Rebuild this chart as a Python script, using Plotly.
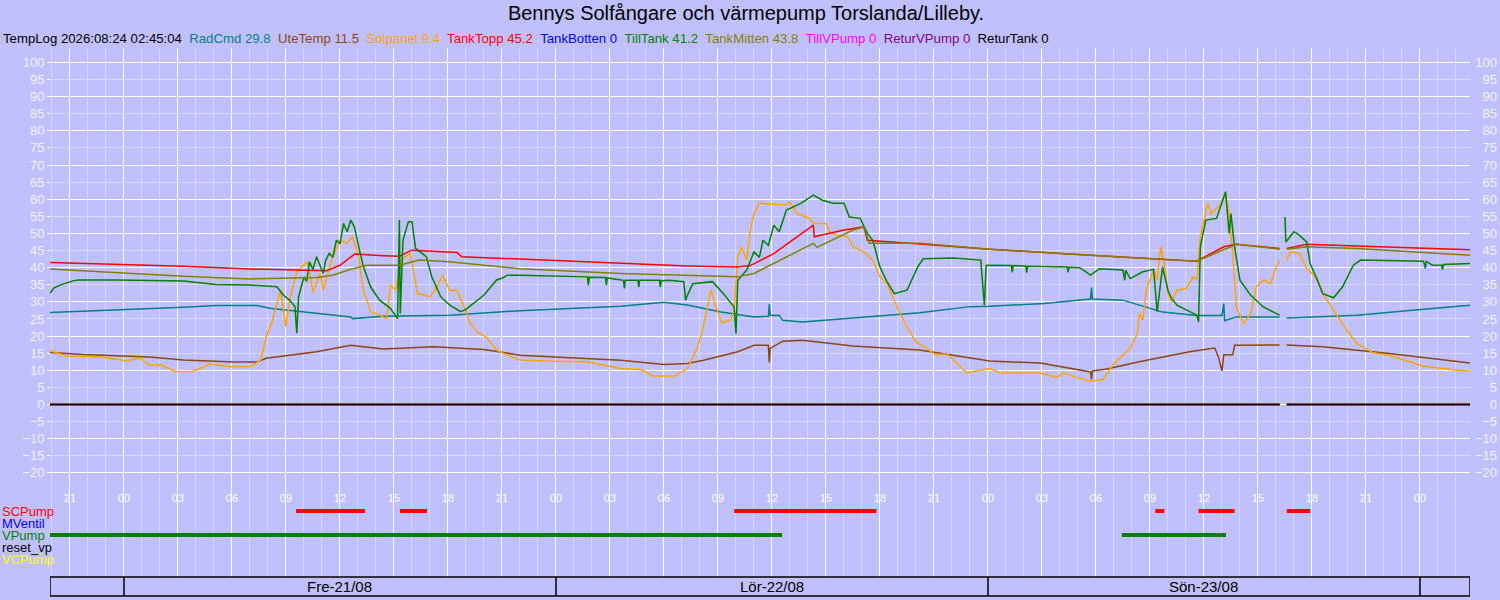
import pandas as pd
import plotly.graph_objects as go

# --------------------------------------------------
# Data (time in hours from Fre 2026-08-21 00:00)
# --------------------------------------------------

T0 = pd.Timestamp("2026-08-21 00:00")
X_START_H = -4.11
X_END_H = 74.78

RADCMD_H = [-4.11, -0.4, 3.3, 5.1, 7.4, 8.1, 10.0, 12.6, 12.7, 14.4, 18.1, 22.0, 27.6, 30.0,
            31.3, 33.1, 35.0, 35.8, 35.85, 35.9, 36.4, 36.6, 37.7, 40.5, 44.2, 47.0, 48.1,
            51.1, 53.7, 53.75, 53.8, 55.5, 56.6, 57.7, 59.6, 61.0, 61.1, 61.15, 61.8, 64.2,
            64.4, 64.6, 68.5, 72.2, 74.78]
RADCMD_V = [26.9, 27.6, 28.4, 28.9, 28.9, 28.1, 27.0, 25.6, 25.1, 25.8, 26.1, 27.4, 28.7, 29.9,
            29.1, 27.1, 25.6, 25.8, 29.3, 26.0, 26.1, 24.6, 24.1, 25.3, 26.8, 28.6, 28.7,
            29.5, 30.8, 34.2, 30.8, 30.5, 28.7, 27.0, 26.0, 26.0, 29.5, 24.5, 25.6, 25.6,
            None, 25.3, 26.1, 27.8, 29.0]

UTETEMP_H = [-4.11, -2.26, 1.4, 3.3, 6.1, 7.4, 7.9, 10.7, 12.6, 14.4, 17.2, 20.0, 22.0, 27.6,
             30.0, 31.3, 32.2, 34.1, 35.0, 35.8, 35.85, 35.9, 36.6, 37.7, 40.5, 44.2, 48.1,
             50.9, 53.7, 53.75, 53.8, 54.6, 56.4, 59.2, 60.6, 60.8, 61.0, 61.1, 61.6, 61.7,
             64.2, 64.4, 64.6, 66.6, 70.3, 74.78]
UTETEMP_V = [15.2, 14.6, 13.9, 13.0, 12.4, 12.4, 13.5, 15.4, 17.3, 16.2, 16.9, 16.1, 14.4, 12.9,
             11.7, 12.0, 12.9, 15.4, 17.3, 17.3, 12.3, 16.4, 18.5, 18.8, 17.1, 15.9, 12.7,
             12.1, 9.5, 7.3, 9.8, 10.4, 12.5, 15.4, 16.5, 13.9, 9.8, 14.5, 14.5, 17.3,
             17.4, None, 17.4, 16.9, 14.9, 12.1]

SOLPANEL_H = [-4.11, -3.2, -1.33, 0.15, 0.9, 1.4, 2.0, 2.9, 3.85, 4.8, 5.9, 7.0, 7.6, 7.9, 8.2,
              8.7, 9.0, 9.2, 9.6, 10.2, 10.5, 10.9, 11.07, 11.5, 12.0, 12.4, 12.7, 13.0, 13.3,
              13.7, 14.2, 14.6, 14.8, 15.1, 15.4, 15.9, 16.3, 17.0, 17.4, 17.7, 18.1, 18.5,
              18.9, 19.2, 19.6, 20.1, 20.7, 21.4, 22.0, 23.85, 25.7, 27.6, 28.7, 29.4, 30.6,
              31.3, 31.8, 32.1, 32.4, 32.6, 32.9, 33.2, 33.7, 33.9, 34.1, 34.3, 34.6, 34.8,
              35.0, 35.3, 36.8, 37.0, 37.4, 38.1, 38.3, 39.0, 39.2, 39.6, 40.2, 40.5, 41.1,
              41.6, 42.0, 42.4, 42.9, 43.5, 44.0, 44.6, 45.1, 45.7, 46.3, 46.8, 47.6, 48.1,
              48.7, 50.9, 51.8, 52.2, 52.9, 53.7, 54.4, 55.0, 55.9, 56.3, 56.4, 56.6, 56.8,
              57.2, 57.4, 57.6, 57.8, 58.0, 58.2, 58.5, 59.0, 59.4, 59.6, 59.8, 60.2, 60.4,
              60.9, 61.2, 61.4, 61.6, 61.8, 62.2, 62.6, 62.9, 63.3, 63.7, 64.0, 64.2, 64.4,
              64.6, 64.8, 65.3, 65.7, 66.3, 66.6, 67.2, 67.8, 68.5, 69.4, 70.3, 72.2, 73.7,
              74.78]
SOLPANEL_V = [15.7, 14.2, 13.9, 12.8, 13.6, 11.5, 11.6, 9.6, 9.7, 11.8, 11.0, 11.0, 13.0, 19.8, 23.7,
              33.4, 22.7, 30.5, 38.8, 41.7, 32.9, 38.3, 33.4, 41.7, 48.0, 47.1, 49.0, 44.2, 33.4,
              27.1, 26.1, 25.1, 34.9, 33.4, 42.2, 44.2, 32.5, 31.5, 34.4, 37.8, 33.4, 33.4,
              28.6, 24.2, 21.2, 19.8, 15.9, 14.2, 13.0, 12.6, 12.5, 10.5, 10.2, 8.3, 8.3,
              10.5, 15.9, 20.7, 28.1, 33.4, 28.5, 23.9, 24.7, 27.6, 43.1, 46.1, 42.2, 51.0,
              55.8, 58.8, 58.3, 59.2, 55.8, 54.4, 52.9, 52.9, 50.5, 49.5, 49.0, 46.1, 44.6,
              42.2, 37.3, 35.4, 29.0, 22.7, 18.3, 16.4, 14.4, 14.9, 12.0, 9.3, 10.0, 10.5,
              9.2, 9.2, 7.9, 9.2, 8.0, 6.8, 7.3, 12.0, 16.4, 20.7, 26.6, 24.7, 33.4,
              39.3, 36.4, 46.1, 41.2, 32.4, 30.0, 33.4, 33.9, 37.3, 36.4, 49.0, 58.8, 55.8,
              58.3, 61.2, 55.8, 44.1, 28.5, 23.6, 26.6, 34.4, 36.4, 35.4, 40.2, 42.0, None,
              42.2, 44.6, 44.1, 39.7, 36.8, 32.4, 27.6, 22.7, 17.8, 15.1, 14.4, 11.2, 10.2,
              9.7]

TANKTOPP_H = [-4.11, 3.3, 7.0, 10.0, 11.26, 12.0, 12.83, 14.4, 15.3, 15.98, 18.5, 18.76, 22.0,
              27.6, 31.3, 34.1, 34.8, 36.1, 38.3, 38.35, 40.0, 41.1, 41.3, 44.2, 48.1, 53.7,
              57.4, 59.6, 61.1, 61.8, 64.2, 64.4, 64.6, 65.7, 68.5, 72.2, 74.78]
TANKTOPP_V = [41.5, 40.4, 39.6, 39.1, 39.1, 40.7, 44.0, 43.5, 43.3, 45.1, 44.4, 43.2, 42.5,
              41.2, 40.5, 40.2, 40.6, 44.1, 52.4, 49.0, 51.0, 51.9, 48.0, 46.9, 45.4, 43.6,
              42.6, 41.9, 46.1, 46.8, 45.6, None, 45.6, 46.8, 46.3, 45.7, 45.2]

TILLTANK_H = [-4.11, -3.9, -3.56, -3.2, -2.8, -2.5, -0.4, 3.3, 5.1, 7.0, 8.5, 8.85, 9.2, 9.5,
              9.6, 9.7, 10.0, 10.15, 10.3, 10.5, 10.7, 11.07, 11.2, 11.4, 11.6, 11.8, 12.0,
              12.2, 12.4, 12.6, 12.8, 13.0, 13.3, 13.7, 14.2, 14.8, 15.2, 15.3, 15.35, 15.5,
              15.8, 16.0, 16.2, 16.8, 17.1, 17.6, 18.1, 18.7, 19.0, 20.0, 20.7, 21.0, 21.3,
              22.0, 24.8, 25.75, 25.8, 25.85, 26.75, 26.8, 26.85, 27.6, 27.75, 27.8, 27.85,
              28.55, 28.6, 28.65, 29.75, 29.8, 29.85, 30.3, 31.1, 31.2, 31.3, 31.6, 32.7,
              33.3, 33.9, 34.0, 34.1, 34.6, 35.0, 35.3, 35.5, 35.8, 36.1, 36.4, 36.8, 37.6,
              38.3, 38.8, 39.4, 40.0, 40.3, 40.9, 41.3, 41.6, 42.0, 42.4, 42.8, 43.5, 44.1,
              44.4, 46.1, 47.6, 47.8, 47.9, 48.1, 49.3, 49.35, 49.4, 50.1, 50.15, 50.2, 50.9,
              52.4, 52.45, 52.5, 53.1, 53.7, 54.2, 55.5, 55.6, 55.65, 55.9, 56.6, 57.2, 57.4,
              57.7, 58.0, 58.2, 58.5, 59.6, 59.7, 59.8, 60.1, 60.7, 61.2, 61.4, 61.5, 61.7,
              62.0, 62.6, 63.3, 64.2, 64.4, 64.5, 64.55, 65.0, 65.3, 65.7, 65.9, 66.3, 66.6,
              67.2, 67.7, 68.3, 68.7, 72.2, 72.3, 72.35, 72.7, 73.2, 73.25, 73.3, 74.78]
TILLTANK_V = [32.5, 34.0, 34.9, 35.6, 36.2, 36.4, 36.4, 36.1, 35.1, 34.9, 34.4, 32.0, 30.5, 28.6,
              20.8, 31.5, 37.3, 36.0, 41.7, 39.5, 43.2, 38.3, 42.0, 44.2, 43.0, 48.0, 47.0,
              52.9, 50.5, 53.9, 51.9, 47.1, 40.3, 34.4, 30.5, 28.1, 25.1, 53.9, 26.6, 48.0,
              53.4, 53.4, 45.6, 43.2, 37.3, 31.5, 29.0, 27.1, 27.8, 32.0, 36.4, 36.9, 37.8,
              37.8, 37.3, 37.3, 34.9, 37.2, 37.1, 34.9, 37.0, 36.3, 36.3, 33.9, 36.3,
              36.3, 34.4, 36.3, 36.3, 34.4, 36.2, 36.3, 35.9, 30.5, 31.9, 35.3, 35.9,
              32.4, 28.5, 20.7, 36.3, 39.3, 44.6, 43.0, 48.0, 46.5, 52.4, 50.5, 56.8, 58.8,
              61.2, 59.7, 58.8, 58.8, 54.8, 54.4, 50.0, 48.0, 40.2, 35.8, 32.4, 33.4, 40.2,
              42.6, 42.8, 42.2, 29.0, 40.7, 40.7, 40.6, 38.6, 40.6, 40.5, 38.5, 40.4, 40.4,
              40.2, 38.6, 40.1, 40.0, 37.8, 39.7, 39.3, 36.3, 39.2, 36.8, 38.8, 39.5, 27.1,
              40.2, 33.4, 31.0, 29.0, 26.1, 24.2, 46.1, 53.9, 54.4, 62.2, 50.0, 55.8, 46.1,
              36.3, 31.9, 28.5, 26.1, None, 54.8, 47.5, 50.5, 49.5, 47.5, 41.2, 36.3, 32.4,
              31.2, 34.4, 40.7, 42.2, 41.9, 39.8, 41.8, 40.7, 40.7, 39.4, 40.9, 41.2]

TANKMITTEN_H = [-4.11, -0.4, 3.3, 7.0, 10.7, 11.6, 12.6, 13.5, 15.3, 16.4, 18.1, 20.0, 22.0,
                27.6, 34.1, 35.0, 38.3, 38.5, 40.5, 41.1, 41.4, 44.2, 48.1, 53.7, 59.6, 61.8,
                64.2, 64.4, 64.6, 65.7, 68.5, 74.78]
TANKMITTEN_V = [39.6, 38.5, 37.5, 36.7, 37.1, 37.8, 39.5, 40.7, 40.7, 42.2, 41.7, 40.7, 39.7,
                38.3, 37.3, 38.3, 47.1, 45.9, 51.0, 51.9, 47.1, 47.1, 45.4, 43.6, 41.9, 46.8,
                45.4, None, 45.4, 46.1, 45.6, 43.6]

# sensors reading 0 all the time (data gap at ~16:20 Sön)
ZERO_H = [-4.11, 64.2, 64.4, 64.6, 74.78]
ZERO_V = [0, 0, None, 0, 0]

# header values
HEADER_STAMP = "TempLog 2026:08:24 02:45:04"
HEADER_NAMES = ["RadCmd", "UteTemp", "Solpanel", "TankTopp", "TankBotten", "TillTank",
                "TankMitten", "TillVPump", "ReturVPump", "ReturTank"]
HEADER_VALUES = ["29.8", "11.5", "9.4", "45.2", "0", "41.2", "43.8", "0", "0", "0"]

# digital signals (on-intervals in hours)
LANES = ["SCPump", "MVentil", "VPump", "reset_vp", "VCPump"]
SCPUMP_ON = [(9.56, 13.39), (15.33, 16.83), (33.9, 41.8), (57.3, 57.8), (59.7, 61.7), (64.6, 65.9)]
MVENTIL_ON = []
VPUMP_ON = [(-4.11, 36.56), (55.44, 61.22)]
RESETVP_ON = []
VCPUMP_ON = []

Y_TICKS = list(range(-20, 101, 5))
DAY_BOUNDS_H = [0, 24, 48, 72]
DAY_LABELS = ["Fre-21/08", "Lör-22/08", "Sön-23/08"]
DAY_LABEL_H = [12, 36, 60]

# --------------------------------------------------
# Style
# --------------------------------------------------

W, H = 1500, 600
BG = "#c0c0ff"
FAINT = "#d8d8ff"
LABEL = "#f2f2ff"
FONT = "Liberation Sans, Arial, sans-serif"

COLORS = {
    "RadCmd": "#008080",
    "UteTemp": "#8b4513",
    "Solpanel": "#ffa500",
    "TankTopp": "#ff0000",
    "TankBotten": "#0000ff",
    "TillTank": "#008000",
    "TankMitten": "#808000",
    "TillVPump": "#ff00ff",
    "ReturVPump": "#800080",
    "ReturTank": "#000000",
}
LANE_COLORS = ["#ff0000", "#0000ff", "#008000", "#000000", "#ffff00"]


def px_x(p):
    return p / W


def px_y(p):
    return 1 - p / H


def t(hours):
    return [T0 + pd.Timedelta(hours=h) for h in hours]


X_DOM = [px_x(50), px_x(1470)]
Y_DOM = [px_y(490), px_y(48)]
Y2_DOM = [px_y(577), px_y(490)]
Y_RANGE = [-25.0, 104.2]
Y2_RANGE = [-1.5, 5.75]
X_RANGE = [T0 + pd.Timedelta(hours=X_START_H), T0 + pd.Timedelta(hours=X_END_H)]

# tick positions: label every 3 h, thin grid every hour
major_ticks = pd.date_range("2026-08-20 21:00", "2026-08-24 00:00", freq="3h")
minor_ticks = pd.date_range("2026-08-20 20:00", "2026-08-24 02:00", freq="1h")

fig = go.Figure()

# --------------------------------------------------
# Analog series
# --------------------------------------------------

series = [
    ("RadCmd", RADCMD_H, RADCMD_V, "y"),
    ("UteTemp", UTETEMP_H, UTETEMP_V, "y"),
    ("Solpanel", SOLPANEL_H, SOLPANEL_V, "y"),
    ("TankTopp", TANKTOPP_H, TANKTOPP_V, "y"),
    ("TankBotten", ZERO_H, ZERO_V, "y"),
    ("TillTank", TILLTANK_H, TILLTANK_V, "y"),
    ("TankMitten", TANKMITTEN_H, TANKMITTEN_V, "y"),
    ("ReturVPump", ZERO_H, ZERO_V, "y"),
    ("TillVPump", ZERO_H, ZERO_V, "y3"),
    ("ReturTank", ZERO_H, ZERO_V, "y4"),
]

for name, hrs, vals, yax in series:
    fig.add_trace(go.Scatter(
        x=t(hrs), y=vals, mode="lines", name=name,
        line=dict(color=COLORS[name], width=1.5),
        xaxis="x", yaxis=yax, hoverinfo="skip", showlegend=False,
    ))

# --------------------------------------------------
# Digital lanes
# --------------------------------------------------

lane_on = [SCPUMP_ON, MVENTIL_ON, VPUMP_ON, RESETVP_ON, VCPUMP_ON]

for i, (lane, intervals) in enumerate(zip(LANES, lane_on)):
    level = len(LANES) - 1 - i
    xs, ys = [], []
    for a, b in intervals:
        xs += t([a, b]) + [None]
        ys += [level, level, None]
    if xs:
        fig.add_trace(go.Scatter(
            x=xs, y=ys, mode="lines", line=dict(color=LANE_COLORS[i], width=4),
            xaxis="x2", yaxis="y2", hoverinfo="skip", showlegend=False,
        ))
    fig.add_annotation(
        xref="paper", x=0, xanchor="left", yref="y2", y=level, yanchor="middle",
        text=lane, showarrow=False, font=dict(color=LANE_COLORS[i], size=13, family=FONT),
    )

# --------------------------------------------------
# Header and date boxes
# --------------------------------------------------

parts = [HEADER_STAMP]
for n, v in zip(HEADER_NAMES, HEADER_VALUES):
    parts.append(f'<span style="color:{COLORS[n]}">{n} {v}</span>')

fig.add_annotation(
    xref="paper", yref="paper", x=px_x(1), y=px_y(38), xanchor="left", yanchor="middle",
    text="\u00a0\u00a0".join(parts), showarrow=False,
    font=dict(color="black", size=13.2, family=FONT),
)

shapes = [dict(
    type="rect", xref="x", yref="paper", x0=X_RANGE[0], x1=X_RANGE[1],
    y0=px_y(596), y1=px_y(577), line=dict(color="black", width=1.5),
)]
for h in DAY_BOUNDS_H:
    d = T0 + pd.Timedelta(hours=h)
    shapes.append(dict(type="line", xref="x", yref="paper", x0=d, x1=d,
                       y0=px_y(596), y1=px_y(577), line=dict(color="black", width=1.5)))

for lbl, h in zip(DAY_LABELS, DAY_LABEL_H):
    fig.add_annotation(
        xref="x", yref="paper", x=T0 + pd.Timedelta(hours=h), y=px_y(586.5),
        text=lbl, showarrow=False, yanchor="middle",
        font=dict(color="black", size=15, family=FONT),
    )

# --------------------------------------------------
# Layout
# --------------------------------------------------

xgrid = dict(
    type="date", range=X_RANGE, domain=X_DOM,
    tickmode="array", tickvals=major_ticks, ticktext=[d.strftime("%H") for d in major_ticks],
    showgrid=True, gridcolor="white", gridwidth=1,
    minor=dict(tickmode="array", tickvals=minor_ticks, showgrid=True, gridcolor=FAINT, gridwidth=1),
    zeroline=False, showline=False, ticks="", fixedrange=True,
)

axis_labels = dict(
    range=Y_RANGE, tickmode="array", tickvals=Y_TICKS, showgrid=False,
    zeroline=False, showline=False, tickfont=dict(color=LABEL, size=13, family=FONT),
    overlaying="y", anchor="free", side="left", fixedrange=True,
)

fig.update_layout(
    width=W, height=H, autosize=False,
    margin=dict(l=0, r=0, t=0, b=0),
    paper_bgcolor=BG, plot_bgcolor=BG,
    font=dict(family=FONT),
    title=dict(
        text="Bennys Solfångare och värmepump Torslanda/Lilleby.",
        x=px_x(746), xanchor="center", y=px_y(13), yanchor="middle",
        font=dict(size=20, color="black", family=FONT),
    ),
    xaxis=dict(xgrid, anchor="y", showticklabels=True,
               tickfont=dict(color="white", size=11, family=FONT)),
    xaxis2=dict(xgrid, anchor="y2", matches="x", showticklabels=False),
    yaxis=dict(
        domain=Y_DOM, anchor="x", range=Y_RANGE, tick0=0, dtick=10,
        showgrid=True, gridcolor="white", gridwidth=1, showticklabels=False,
        minor=dict(dtick=5, showgrid=True, gridcolor=FAINT, gridwidth=1),
        zeroline=False, showline=False, ticks="", fixedrange=True,
    ),
    yaxis2=dict(
        domain=Y2_DOM, anchor="x2", range=Y2_RANGE, showgrid=False,
        showticklabels=False, zeroline=False, showline=False, fixedrange=True,
    ),
    yaxis3=dict(axis_labels, position=px_x(50), ticks="outside", ticklen=3, tickcolor="white"),
    yaxis4=dict(axis_labels, position=px_x(1497), ticks=""),
    shapes=shapes,
)

fig.write_html(
    "out.html",
    config={"displayModeBar": False, "staticPlot": True},
    post_script="document.body.style.margin='0';",
)
